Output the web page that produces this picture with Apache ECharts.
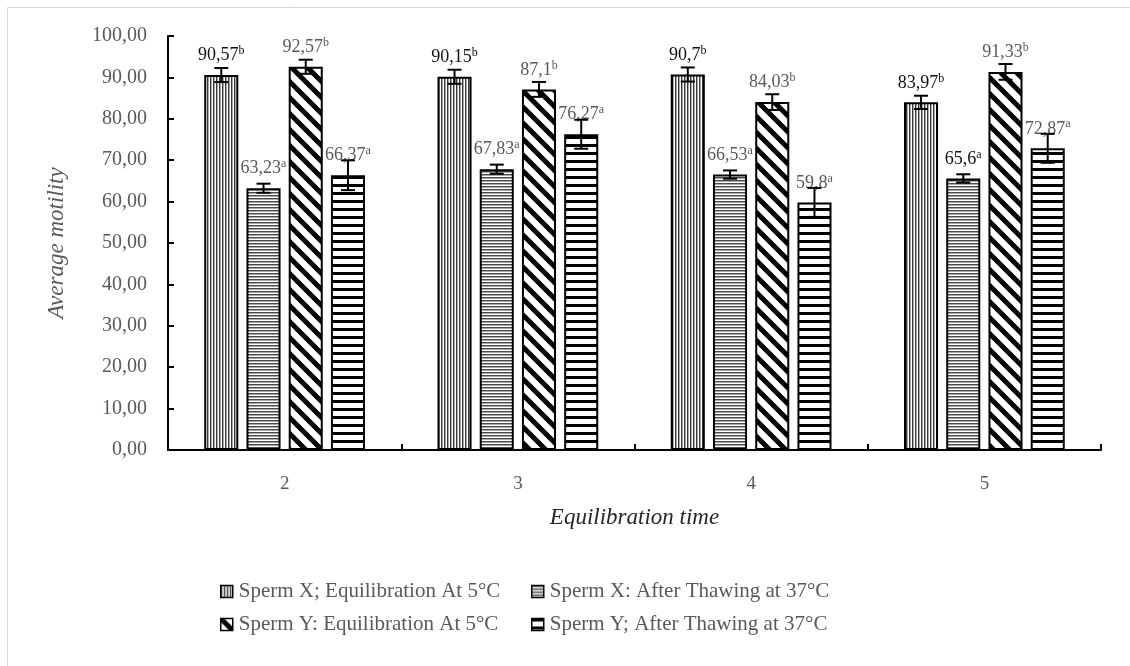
<!DOCTYPE html>
<html>
<head>
<meta charset="utf-8">
<script src="https://cdn.jsdelivr.net/npm/echarts@6/dist/echarts.min.js"></script>
<style>html,body{margin:0;padding:0;background:#fff}#c{width:1130px;height:666px}</style>
</head>
<body>
<div id="c"></div>
<script>
var categories = ['2', '3', '4', '5'];
var seriesNames = ['Sperm X; Equilibration At 5°C', 'Sperm X: After Thawing at 37°C', 'Sperm Y: Equilibration At 5°C', 'Sperm Y; After Thawing at 37°C'];
var xEquil = [90.57, 90.15, 90.7, 83.97];
var xThaw = [63.23, 67.83, 66.53, 65.6];
var yEquil = [92.57, 87.1, 84.03, 91.33];
var yThaw = [66.37, 76.27, 59.8, 72.87];
var xEquilErr = [1.7, 1.7, 1.7, 1.6];
var xThawErr = [1.1, 1.1, 1.0, 1.0];
var yEquilErr = [1.7, 1.8, 1.9, 1.9];
var yThawErr = [3.6, 3.5, 3.5, 3.5];
var xEquilSig = ['b', 'b', 'b', 'b'];
var xThawSig = ['a', 'a', 'a', 'a'];
var yEquilSig = ['b', 'b', 'b', 'b'];
var yThawSig = ['a', 'a', 'a', 'a'];
var xEquilLabelDark = [true, true, true, true];
var xThawLabelDark = [false, false, false, true];
var yEquilLabelDark = [false, false, false, false];
var yThawLabelDark = [false, false, false, false];
var yTicks = [0, 10, 20, 30, 40, 50, 60, 70, 80, 90, 100];

var values = [xEquil, xThaw, yEquil, yThaw];
var errs = [xEquilErr, xThawErr, yEquilErr, yThawErr];
var sigs = [xEquilSig, xThawSig, yEquilSig, yThawSig];
var darks = [xEquilLabelDark, xThawLabelDark, yEquilLabelDark, yThawLabelDark];

function makePattern(kind) {
  var c = document.createElement('canvas');
  var ctx;
  if (kind === 0) {
    c.width = 3; c.height = 4; ctx = c.getContext('2d');
    ctx.fillStyle = '#fff'; ctx.fillRect(0, 0, 3, 4);
    ctx.fillStyle = '#3a3a3a'; ctx.fillRect(0, 0, 1, 4);
    ctx.fillStyle = '#a8a8a8'; ctx.fillRect(1, 0, 1, 4);
  } else if (kind === 1) {
    c.width = 4; c.height = 3; ctx = c.getContext('2d');
    ctx.fillStyle = '#fff'; ctx.fillRect(0, 0, 4, 3);
    ctx.fillStyle = '#4a4a4a'; ctx.fillRect(0, 0, 4, 1);
    ctx.fillStyle = '#a8a8a8'; ctx.fillRect(0, 1, 4, 1);
  } else if (kind === 2) {
    var s = 16;
    c.width = s; c.height = s; ctx = c.getContext('2d');
    ctx.fillStyle = '#fff'; ctx.fillRect(0, 0, s, s);
    ctx.strokeStyle = '#000'; ctx.lineWidth = 5;
    ctx.beginPath();
    ctx.moveTo(-4, -4); ctx.lineTo(s + 4, s + 4);
    ctx.moveTo(-4 - s, -4); ctx.lineTo(4, s + 4);
    ctx.moveTo(s - 4, -4); ctx.lineTo(2 * s + 4, s + 4);
    ctx.stroke();
  } else {
    c.width = 4; c.height = 8; ctx = c.getContext('2d');
    ctx.fillStyle = '#fff'; ctx.fillRect(0, 0, 4, 8);
    ctx.fillStyle = '#000'; ctx.fillRect(0, 0, 4, 3);
  }
  return { image: c, repeat: 'repeat' };
}

var FONT = 'Liberation Serif';
var GRAY = '#595959';
var BW = 0.146, GAP = 0.24;

var series = [];
for (var s = 0; s < 4; s++) {
  (function (s) {
    series.push({
      name: seriesNames[s],
      type: 'bar',
      barWidth: (BW * 100) + '%',
      barGap: (GAP * 100) + '%',
      itemStyle: { color: makePattern(s), borderColor: '#000', borderWidth: 2 },
      data: values[s].map(function (v, i) {
        return { value: v, label: { color: darks[s][i] ? '#111' : GRAY } };
      }),
      label: {
        show: true,
        position: 'top',
        distance: 9,
        fontFamily: FONT,
        fontSize: 18,
        formatter: function (p) {
          return String(p.value).replace('.', ',') + '{s|' + sigs[s][p.dataIndex] + '}';
        },
        rich: { s: { fontSize: 12, fontFamily: FONT, padding: [0, 0, 9, 0] } }
      },
      z: 2
    });
  })(s);
}

var errData = [];
for (var s2 = 0; s2 < 4; s2++) {
  for (var i = 0; i < categories.length; i++) {
    errData.push([i, s2, values[s2][i], errs[s2][i]]);
  }
}

series.push({
  type: 'custom',
  name: 'err',
  z: 5,
  silent: true,
  data: errData,
  renderItem: function (params, api) {
    var cat = api.value(0), si = api.value(1), v = api.value(2), e = api.value(3);
    var band = api.size([1, 0])[0];
    var bw = band * BW, gap = bw * GAP;
    var total = 4 * bw + 3 * gap;
    var cx = api.coord([cat, v])[0] - total / 2 + bw / 2 + si * (bw + gap);
    var yt = api.coord([cat, v + e])[1];
    var yb = api.coord([cat, v - e])[1];
    var hw = 7;
    var st = { stroke: '#000', lineWidth: 2 };
    return {
      type: 'group',
      children: [
        { type: 'line', shape: { x1: cx, y1: yt, x2: cx, y2: yb }, style: st },
        { type: 'line', shape: { x1: cx - hw, y1: yt, x2: cx + hw, y2: yt }, style: st },
        { type: 'line', shape: { x1: cx - hw, y1: yb, x2: cx + hw, y2: yb }, style: st }
      ]
    };
  }
});

function legendAt(name, left, top) {
  return {
    data: [name],
    left: left, top: top,
    icon: 'rect',
    itemWidth: 12, itemHeight: 12,
    itemGap: 0,
    padding: 0,
    selectedMode: false,
    textStyle: { fontFamily: FONT, fontSize: 21, color: GRAY, padding: [0, 0, 0, 1] },
    itemStyle: { borderColor: '#000', borderWidth: 1.5 }
  };
}

var chart = echarts.init(document.getElementById('c'), null, { renderer: 'canvas' });
chart.setOption({
  backgroundColor: '#fff',
  animation: false,
  graphic: [{
    type: 'rect', silent: true,
    shape: { x: 7.5, y: 7.5, width: 1300, height: 1000 },
    style: { fill: 'none', stroke: '#d9d9d9', lineWidth: 1 }
  }],
  grid: { left: 168, right: 29, top: 36, bottom: 216, containLabel: false },
  legend: [
    legendAt(seriesNames[0], 220, 581),
    legendAt(seriesNames[1], 531, 581),
    legendAt(seriesNames[2], 220, 614),
    legendAt(seriesNames[3], 531, 614)
  ],
  xAxis: {
    type: 'category',
    data: categories,
    name: 'Equilibration time',
    nameLocation: 'middle',
    nameGap: 56,
    nameTextStyle: { fontFamily: FONT, fontStyle: 'italic', fontSize: 23, color: '#262626' },
    axisLine: { lineStyle: { color: '#000', width: 2 } },
    axisTick: { show: true, inside: true, length: 6, lineStyle: { color: '#000', width: 2 } },
    axisLabel: { fontFamily: FONT, fontSize: 19, color: GRAY, margin: 25 },
    splitLine: { show: false }
  },
  yAxis: {
    type: 'value',
    min: yTicks[0], max: yTicks[yTicks.length - 1], interval: yTicks[1] - yTicks[0],
    name: 'Average motility',
    nameLocation: 'middle',
    nameGap: 100,
    nameTextStyle: { fontFamily: FONT, fontStyle: 'italic', fontSize: 23, color: GRAY },
    axisLine: { show: true, lineStyle: { color: '#000', width: 2 } },
    axisTick: { show: true, inside: true, length: 6, lineStyle: { color: '#000', width: 2 } },
    axisLabel: {
      fontFamily: FONT, fontSize: 20, color: GRAY, margin: 21,
      formatter: function (v) { return v.toFixed(2).replace('.', ','); }
    },
    splitLine: { show: false }
  },
  series: series
});
</script>
</body>
</html>
